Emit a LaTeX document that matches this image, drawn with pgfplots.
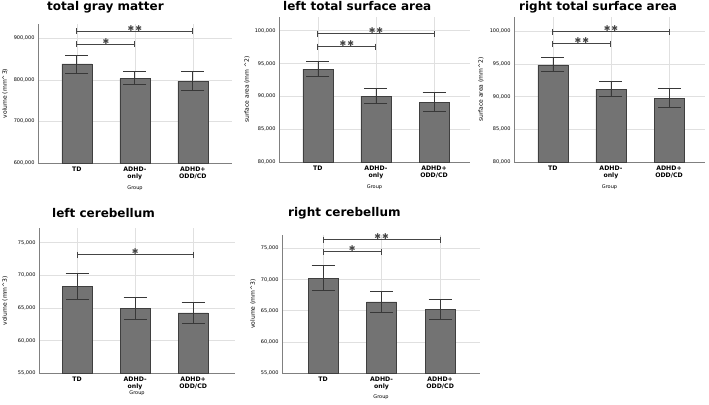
\documentclass[border=0pt]{standalone}
\usepackage{fontspec}
\setmainfont{DejaVu Sans}
\usepackage{pgfplots}
\pgfplotsset{compat=1.18}
\definecolor{barfill}{HTML}{737373}
\definecolor{bardraw}{HTML}{3F3F3F}
\definecolor{errc}{HTML}{383838}
\definecolor{brc}{HTML}{454545}
\tikzset{sig/.style={anchor=base, text=brc, font=\fontsize{8}{8}\selectfont},
  ttl/.style={anchor=base west, inner sep=0pt, font=\fontsize{12}{12}\selectfont\bfseries}}
\pgfplotsset{
  base/.style={
    scale only axis,
    axis x line=bottom, axis y line=left,
    axis line style={-, draw=black!50, line width=0.6pt},
    major tick length=0pt,
    xmajorgrids, ymajorgrids, grid style={black!12, line width=0.5pt},
    xtick={0,1,2}, xticklabels={TD,{ADHD-\\only},{ADHD+\\ODD/CD}},
    xticklabel style={align=center, font=\fontsize{6.2}{7}\selectfont\bfseries},
    yticklabel style={font=\fontsize{5}{6}\selectfont},
    scaled y ticks=false,
    /pgf/number format/fixed, /pgf/number format/1000 sep={,},
    /pgf/number format/assume math mode=true,
    xlabel={Group},
    xlabel style={font=\fontsize{5}{6}\selectfont, at={(axis description cs:0.5,0)}, anchor=center, yshift=-25pt},
    clip=false,
  },
  bars/.style={ybar, bar width=30pt, fill=barfill, draw=bardraw, line width=0.6pt,
    error bars/.cd, y dir=both, y explicit,
    error bar style={errc, line width=0.8pt},
    error mark options={rotate=90, errc, line width=0.8pt, mark size=11.5pt}},
  brk/.style={brc, line width=1pt, mark=|, mark size=3pt, mark options={brc, line width=1pt}},
}
\newcommand{\ds}{✱\hspace{1pt}✱}
\newcommand{\sst}{✱}
\begin{document}
\begin{tikzpicture}
\useasboundingbox (0,0) rectangle (709pt,404pt);
% titles
\node[ttl] at (47pt,393pt) {total gray matter};
\node[ttl] at (283pt,393pt) {left total surface area};
\node[ttl] at (519pt,393pt) {right total surface area};
\node[ttl] at (52pt,186pt) {left cerebellum};
\node[ttl] at (288pt,187pt) {right cerebellum};

% panel 1
\begin{axis}[base, at={(38pt,241pt)}, anchor=south west, width=194pt, height=139pt,
  xmin=-0.67, xmax=2.675, ymin=600000, ymax=934000,
  ytick={600000,700000,800000,900000},
  ylabel={volume (mm\textasciicircum 3)},
  ylabel style={font=\fontsize{6}{7}\selectfont, at={(axis description cs:-0.170,0.5)}, anchor=center}]
\addplot[bars] coordinates {(0,838000) += (0,21000) -= (0,23000)
  (1,803000) += (0,17000) -= (0,15000)
  (2,797000) += (0,22000) -= (0,23000)};
\addplot[brk] coordinates {(0,885000) (1,885000)};
\addplot[brk] coordinates {(0,917000) (2,917000)};
\node[sig] at (axis cs:0.5,885000) {\sst};
\node[sig] at (axis cs:1,917000) {\ds};
\end{axis}

% panel 2
\begin{axis}[base, at={(279pt,242pt)}, anchor=south west, width=191pt, height=145pt,
  xmin=-0.67, xmax=2.62, ymin=80000, ymax=102090,
  ytick={80000,85000,90000,95000,100000},
  ylabel={surface area (mm \textasciicircum 2)},
  ylabel style={font=\fontsize{6}{7}\selectfont, at={(axis description cs:-0.168,0.5)}, anchor=center}]
\addplot[bars] coordinates {(0,94160) += (0,1220) -= (0,1170)
  (1,90000) += (0,1170) -= (0,1070)
  (2,89140) += (0,1420) -= (0,1370)};
\addplot[brk] coordinates {(0,97560) (1,97560)};
\addplot[brk] coordinates {(0,99540) (2,99540)};
\node[sig] at (axis cs:0.5,97560) {\ds};
\node[sig] at (axis cs:1,99540) {\ds};
\end{axis}

% panel 3
\begin{axis}[base, at={(514pt,242pt)}, anchor=south west, width=191pt, height=145pt,
  xmin=-0.67, xmax=2.62, ymin=80000, ymax=102170,
  ytick={80000,85000,90000,95000,100000},
  ylabel={surface area (mm\textasciicircum 2)},
  ylabel style={font=\fontsize{6}{7}\selectfont, at={(axis description cs:-0.173,0.5)}, anchor=center}]
\addplot[bars] coordinates {(0,94860) += (0,1170) -= (0,1070)
  (1,91150) += (0,1170) -= (0,1170)
  (2,89770) += (0,1420) -= (0,1420)};
\addplot[brk] coordinates {(0,98070) (1,98070)};
\addplot[brk] coordinates {(0,99900) (2,99900)};
\node[sig] at (axis cs:0.5,98070) {\ds};
\node[sig] at (axis cs:1,99900) {\ds};
\end{axis}

% panel 4
\begin{axis}[base, at={(39pt,30.7pt)}, anchor=south west, width=196pt, height=145.3pt,
  xmin=-0.655, xmax=2.72, ymin=55000, ymax=77220,
  ytick={55000,60000,65000,70000,75000},
  ylabel={volume (mm\textasciicircum 3)},
  xlabel style={yshift=5pt},
  ylabel style={font=\fontsize{6}{7}\selectfont, at={(axis description cs:-0.174,0.5)}, anchor=center}]
\addplot[bars] coordinates {(0,68320) += (0,1990) -= (0,1990)
  (1,64900) += (0,1680) -= (0,1640)
  (2,64240) += (0,1530) -= (0,1540)};
\addplot[brk] coordinates {(0,73110) (2,73110)};
\node[sig] at (axis cs:1,73110) {\sst};
\end{axis}

% panel 5
\begin{axis}[base, at={(282pt,31pt)}, anchor=south west, width=198pt, height=138pt,
  xmin=-0.7, xmax=2.68, ymin=55000, ymax=77130,
  ytick={55000,60000,65000,70000,75000},
  ylabel={volume (mm\textasciicircum 3)},
  xlabel style={yshift=1pt},
  ylabel style={font=\fontsize{6}{7}\selectfont, at={(axis description cs:-0.146,0.5)}, anchor=center}]
\addplot[bars] coordinates {(0,70190) += (0,2040) -= (0,1930)
  (1,66390) += (0,1710) -= (0,1610)
  (2,65215) += (0,1555) -= (0,1545)};
\addplot[brk] coordinates {(0,74465) (1,74465)};
\addplot[brk] coordinates {(0,76390) (2,76390)};
\node[sig] at (axis cs:0.5,74465) {\sst};
\node[sig] at (axis cs:1,76390) {\ds};
\end{axis}
\end{tikzpicture}
\end{document}
